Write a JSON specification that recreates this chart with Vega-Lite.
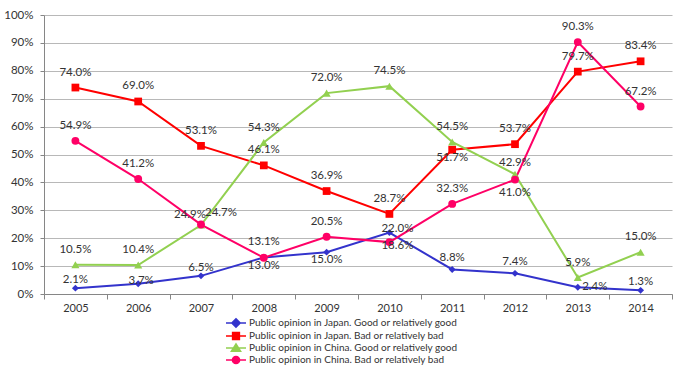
{
  "$schema": "https://vega.github.io/schema/vega-lite/v6.json",
  "width": 628,
  "height": 279,
  "autosize": {"type": "none"},
  "padding": {"left": 44, "top": 15, "right": 8, "bottom": 73},
  "background": "white",
  "config": {
    "view": {"stroke": null},
    "font": "Lato",
    "legend": {"rowPadding": -3.5},
    "text": {"font": "Lato", "fontSize": 11.5, "fill": "#333333", "baseline": "middle", "align": "center"}
  },
  "data": {
    "values": [
      {"year": "2005", "id": "JG", "series": "Public opinion in Japan. Good or relatively good", "value": 0.021},
      {"year": "2006", "id": "JG", "series": "Public opinion in Japan. Good or relatively good", "value": 0.037},
      {"year": "2007", "id": "JG", "series": "Public opinion in Japan. Good or relatively good", "value": 0.065},
      {"year": "2008", "id": "JG", "series": "Public opinion in Japan. Good or relatively good", "value": 0.131},
      {"year": "2009", "id": "JG", "series": "Public opinion in Japan. Good or relatively good", "value": 0.15},
      {"year": "2010", "id": "JG", "series": "Public opinion in Japan. Good or relatively good", "value": 0.22},
      {"year": "2011", "id": "JG", "series": "Public opinion in Japan. Good or relatively good", "value": 0.088},
      {"year": "2012", "id": "JG", "series": "Public opinion in Japan. Good or relatively good", "value": 0.074},
      {"year": "2013", "id": "JG", "series": "Public opinion in Japan. Good or relatively good", "value": 0.024},
      {"year": "2014", "id": "JG", "series": "Public opinion in Japan. Good or relatively good", "value": 0.013},
      {"year": "2005", "id": "JB", "series": "Public opinion in Japan. Bad or relatively bad", "value": 0.74},
      {"year": "2006", "id": "JB", "series": "Public opinion in Japan. Bad or relatively bad", "value": 0.69},
      {"year": "2007", "id": "JB", "series": "Public opinion in Japan. Bad or relatively bad", "value": 0.531},
      {"year": "2008", "id": "JB", "series": "Public opinion in Japan. Bad or relatively bad", "value": 0.461},
      {"year": "2009", "id": "JB", "series": "Public opinion in Japan. Bad or relatively bad", "value": 0.369},
      {"year": "2010", "id": "JB", "series": "Public opinion in Japan. Bad or relatively bad", "value": 0.287},
      {"year": "2011", "id": "JB", "series": "Public opinion in Japan. Bad or relatively bad", "value": 0.517},
      {"year": "2012", "id": "JB", "series": "Public opinion in Japan. Bad or relatively bad", "value": 0.537},
      {"year": "2013", "id": "JB", "series": "Public opinion in Japan. Bad or relatively bad", "value": 0.797},
      {"year": "2014", "id": "JB", "series": "Public opinion in Japan. Bad or relatively bad", "value": 0.834},
      {"year": "2005", "id": "CG", "series": "Public opinion in China. Good or relatively good", "value": 0.105},
      {"year": "2006", "id": "CG", "series": "Public opinion in China. Good or relatively good", "value": 0.104},
      {"year": "2007", "id": "CG", "series": "Public opinion in China. Good or relatively good", "value": 0.247},
      {"year": "2008", "id": "CG", "series": "Public opinion in China. Good or relatively good", "value": 0.543},
      {"year": "2009", "id": "CG", "series": "Public opinion in China. Good or relatively good", "value": 0.72},
      {"year": "2010", "id": "CG", "series": "Public opinion in China. Good or relatively good", "value": 0.745},
      {"year": "2011", "id": "CG", "series": "Public opinion in China. Good or relatively good", "value": 0.545},
      {"year": "2012", "id": "CG", "series": "Public opinion in China. Good or relatively good", "value": 0.429},
      {"year": "2013", "id": "CG", "series": "Public opinion in China. Good or relatively good", "value": 0.059},
      {"year": "2014", "id": "CG", "series": "Public opinion in China. Good or relatively good", "value": 0.15},
      {"year": "2005", "id": "CB", "series": "Public opinion in China. Bad or relatively bad", "value": 0.549},
      {"year": "2006", "id": "CB", "series": "Public opinion in China. Bad or relatively bad", "value": 0.412},
      {"year": "2007", "id": "CB", "series": "Public opinion in China. Bad or relatively bad", "value": 0.249},
      {"year": "2008", "id": "CB", "series": "Public opinion in China. Bad or relatively bad", "value": 0.13},
      {"year": "2009", "id": "CB", "series": "Public opinion in China. Bad or relatively bad", "value": 0.205},
      {"year": "2010", "id": "CB", "series": "Public opinion in China. Bad or relatively bad", "value": 0.186},
      {"year": "2011", "id": "CB", "series": "Public opinion in China. Bad or relatively bad", "value": 0.323},
      {"year": "2012", "id": "CB", "series": "Public opinion in China. Bad or relatively bad", "value": 0.41},
      {"year": "2013", "id": "CB", "series": "Public opinion in China. Bad or relatively bad", "value": 0.903},
      {"year": "2014", "id": "CB", "series": "Public opinion in China. Bad or relatively bad", "value": 0.672}
    ]
  },
  "encoding": {
    "x": {
      "field": "year", "type": "ordinal", "bandPosition": 0.5,
      "scale": {"type": "band", "paddingInner": 0, "paddingOuter": 0},
      "axis": {"title": null, "labelAngle": 0, "tickBand": "extent", "domainColor": "#868686", "tickColor": "#868686", "tickSize": 5, "labelFont": "Lato", "labelFontSize": 11, "labelColor": "#333333", "labelPadding": 3, "grid": false}
    },
    "y": {
      "field": "value", "type": "quantitative",
      "scale": {"domain": [0, 1], "nice": false},
      "axis": {"title": null, "format": ".0%", "values": [0, 0.1, 0.2, 0.3, 0.4, 0.5, 0.6, 0.7, 0.8, 0.9, 1], "domainColor": "#868686", "tickColor": "#868686", "tickSize": 4, "gridColor": "#b8b8b8", "gridWidth": 1.2, "labelFont": "Lato", "labelFontSize": 11.5, "labelColor": "#333333", "labelPadding": 7}
    }
  },
  "layer": [
    {
      "mark": {"type": "line", "strokeWidth": 2},
      "encoding": {
        "color": {"field": "series", "type": "nominal",
          "scale": {"domain": ["Public opinion in Japan. Good or relatively good", "Public opinion in Japan. Bad or relatively bad", "Public opinion in China. Good or relatively good", "Public opinion in China. Bad or relatively bad"],
            "range": ["#3333CC", "#FF0000", "#92D050", "#FF0066"]},
          "legend": {
            "title": null, "orient": "none", "legendX": 192, "legendY": 303, "direction": "vertical",
            "symbolSize": 64, "rowPadding": -3.5, "labelFont": "Lato", "labelFontSize": 10, "labelColor": "#333333", "labelOffset": 3, "labelLimit": 400,
            "encode": {"symbols": {"update": {
              "shape": {"signal": "['M-3.75,0H1.25M-1.25,-1.05L-0.2,0L-1.25,1.05L-2.3,0Z','M-3.75,0H1.25M-2.1,-0.85H-0.4V0.85H-2.1Z','M-3.75,0H1.25M-1.25,-1L-0.1,0.8H-2.4Z','M-3.75,0H1.25M-0.35,0A0.9,0.9,0,1,1,-2.15,0A0.9,0.9,0,1,1,-0.35,0Z'][datum.index]"},
              "fill": {"scale": "color", "field": "value"},
              "stroke": {"scale": "color", "field": "value"},
              "strokeWidth": {"value": 1.5},
              "opacity": {"value": 1}
            }}}
          }}
      }
    },
    {
      "transform": [{"filter": "datum.id == 'JG'"}],
      "mark": {"type": "point", "filled": true, "opacity": 1, "shape": "diamond", "size": 48, "color": "#3333CC"}
    },
    {
      "transform": [{"filter": "datum.id == 'JB'"}],
      "mark": {"type": "point", "filled": true, "opacity": 1, "shape": "square", "size": 60, "color": "#FF0000"}
    },
    {
      "transform": [{"filter": "datum.id == 'CG'"}],
      "mark": {"type": "point", "filled": true, "opacity": 1, "shape": "triangle-up", "size": 66, "color": "#92D050"}
    },
    {
      "transform": [{"filter": "datum.id == 'CB'"}],
      "mark": {"type": "point", "filled": true, "opacity": 1, "shape": "circle", "size": 62, "color": "#FF0066"}
    },
    {
      "transform": [{"filter": "indexof(['JG2005','JG2006','JG2007','JG2009','JG2010','JG2011','JG2012','JG2013','JG2014','CG2007','CG2012','CB2007','CB2008','CB2010','CB2012','JB2011'], datum.id + datum.year) < 0"}],
      "mark": {"type": "text", "dy": -15},
      "encoding": {"text": {"field": "value", "type": "quantitative", "format": ".1%"}}
    },
    {
      "transform": [{"filter": "indexof(['JG2005','JG2007','JG2014'], datum.id + datum.year) >= 0"}],
      "mark": {"type": "text", "dy": -8},
      "encoding": {"text": {"field": "value", "type": "quantitative", "format": ".1%"}}
    },
    {
      "transform": [{"filter": "indexof(['JG2011','JG2012','CG2012'], datum.id + datum.year) >= 0"}],
      "mark": {"type": "text", "dy": -11},
      "encoding": {"text": {"field": "value", "type": "quantitative", "format": ".1%"}}
    },
    {
      "transform": [{"filter": "datum.id + datum.year == 'JG2006'"}],
      "mark": {"type": "text", "dx": 3, "dy": -3},
      "encoding": {"text": {"field": "value", "type": "quantitative", "format": ".1%"}}
    },
    {
      "transform": [{"filter": "datum.id + datum.year == 'JG2010'"}],
      "mark": {"type": "text", "dx": 8, "dy": -4},
      "encoding": {"text": {"field": "value", "type": "quantitative", "format": ".1%"}}
    },
    {
      "transform": [{"filter": "indexof(['JG2009','CB2008','JB2011'], datum.id + datum.year) >= 0"}],
      "mark": {"type": "text", "dy": 8},
      "encoding": {"text": {"field": "value", "type": "quantitative", "format": ".1%"}}
    },
    {
      "transform": [{"filter": "datum.id + datum.year == 'CB2012'"}],
      "mark": {"type": "text", "dy": 13},
      "encoding": {"text": {"field": "value", "type": "quantitative", "format": ".1%"}}
    },
    {
      "transform": [{"filter": "datum.id + datum.year == 'CB2010'"}],
      "mark": {"type": "text", "dx": 8, "dy": 4},
      "encoding": {"text": {"field": "value", "type": "quantitative", "format": ".1%"}}
    },
    {
      "transform": [{"filter": "datum.id + datum.year == 'JG2013'"}],
      "mark": {"type": "text", "dx": 17, "dy": 0},
      "encoding": {"text": {"field": "value", "type": "quantitative", "format": ".1%"}}
    },
    {
      "transform": [{"filter": "datum.id + datum.year == 'CG2007'"}],
      "mark": {"type": "text", "dx": 20, "dy": -12},
      "encoding": {"text": {"field": "value", "type": "quantitative", "format": ".1%"}}
    },
    {
      "transform": [{"filter": "datum.id + datum.year == 'CB2007'"}],
      "mark": {"type": "text", "dx": -11, "dy": -10},
      "encoding": {"text": {"field": "value", "type": "quantitative", "format": ".1%"}}
    }
  ]
}
